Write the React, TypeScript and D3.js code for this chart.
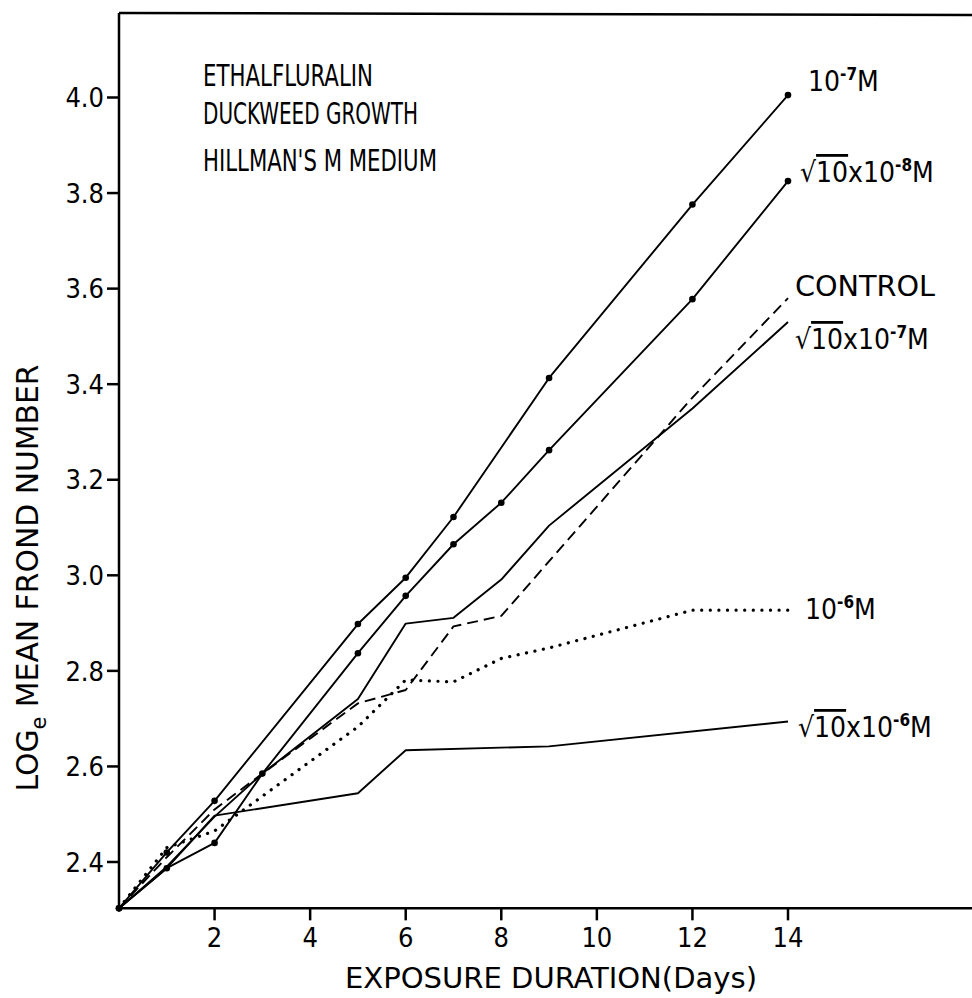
import * as d3 from "d3";

// exposure days and log_e mean frond number
const days10m7 = [0, 1, 2, 5, 6, 7, 9, 12, 14];
const log10m7 = [2.303, 2.42, 2.528, 2.898, 2.995, 3.122, 3.413, 3.776, 4.005];

const daysR10m8 = [0, 1, 2, 3, 5, 6, 7, 8, 9, 12, 14];
const logR10m8 = [2.303, 2.387, 2.44, 2.585, 2.837, 2.957, 3.065, 3.152, 3.262, 3.578, 3.825];

const daysControl = [0, 1, 2, 3, 5, 6, 7, 8, 12, 14];
const logControl = [2.303, 2.41, 2.51, 2.585, 2.732, 2.76, 2.893, 2.915, 3.372, 3.58];

const daysR10m7 = [0, 1, 2, 3, 5, 6, 7, 8, 9, 12, 14];
const logR10m7 = [2.303, 2.39, 2.495, 2.585, 2.741, 2.899, 2.911, 2.991, 3.104, 3.349, 3.53];

const days10m6 = [0, 1, 2, 5, 6, 7, 8, 9, 12, 14];
const log10m6 = [2.303, 2.43, 2.465, 2.683, 2.781, 2.777, 2.826, 2.848, 2.927, 2.927];

const daysR10m6 = [0, 1, 2, 5, 6, 9, 14];
const logR10m6 = [2.303, 2.387, 2.497, 2.544, 2.634, 2.642, 2.694];

const xTicks = [2, 4, 6, 8, 10, 12, 14];
const yTicks = [2.4, 2.6, 2.8, 3.0, 3.2, 3.4, 3.6, 3.8, 4.0];

const W = 972;
const H = 998;
const FONT = "'DejaVu Sans Condensed', 'Liberation Sans Narrow', 'DejaVu Sans', sans-serif";

const x = d3.scaleLinear().domain([0, 14]).range([119, 788]);
const y = d3.scaleLinear().domain([2.4, 4.0]).range([862, 97.5]);

const pairs = (ds: number[], vs: number[]) => ds.map((d, i) => [d, vs[i]] as [number, number]);

const series = [
  { pts: pairs(days10m7, log10m7), style: "solid", dots: true },
  { pts: pairs(daysR10m8, logR10m8), style: "solid", dots: true },
  { pts: pairs(daysControl, logControl), style: "dashed", dots: false },
  { pts: pairs(daysR10m7, logR10m7), style: "solid", dots: false },
  { pts: pairs(days10m6, log10m6), style: "dotted", dots: false },
  { pts: pairs(daysR10m6, logR10m6), style: "solid", dots: false },
];

const line = d3
  .line<[number, number]>()
  .x((d) => x(d[0]))
  .y((d) => y(d[1]));

const Radical = ({ exp }: { exp: string }) => (
  <>
    <tspan>√</tspan>
    <tspan style={{ textDecoration: "overline" }}>10</tspan>
    <tspan>x10</tspan>
    <tspan dy={-11} fontSize={17} fontWeight="bold">{exp}</tspan>
    <tspan dy={11}>M</tspan>
  </>
);

export default function App() {
  const x0 = x(0);
  const yBottom = y(2.303);
  const yTop = 13;
  return (
    <svg
      width={W}
      height={H}
      style={{ position: "absolute", left: 0, top: 0, background: "#fff" }}
      fontFamily={FONT}
    >
      {/* frame */}
      <line x1={x0} y1={yTop} x2={W} y2={yTop + 2} stroke="#000" strokeWidth={2.5} />
      <line x1={x0} y1={yTop} x2={x0} y2={yBottom} stroke="#000" strokeWidth={2.5} />
      <line x1={x0} y1={yBottom} x2={W} y2={yBottom} stroke="#000" strokeWidth={2.5} />

      {xTicks.map((t) => (
        <g key={t}>
          <line x1={x(t)} x2={x(t)} y1={yBottom} y2={yBottom + 12} stroke="#000" strokeWidth={2.5} />
          <text x={x(t)} y={947} textAnchor="middle" fontSize={27}>
            {t}
          </text>
        </g>
      ))}
      {yTicks.map((t) => (
        <g key={t}>
          <line x1={x0 - 12} x2={x0} y1={y(t)} y2={y(t)} stroke="#000" strokeWidth={2.5} />
          <text x={104} y={y(t)} dy="0.36em" textAnchor="end" fontSize={27}>
            {t.toFixed(1)}
          </text>
        </g>
      ))}

      {series.map((s, i) => (
        <g key={i}>
          <path
            d={line(s.pts) || ""}
            fill="none"
            stroke="#000"
            strokeWidth={s.style === "dotted" ? 3.2 : 1.9}
            strokeLinecap={s.style === "dotted" ? "round" : "butt"}
            strokeLinejoin="round"
            strokeDasharray={s.style === "dashed" ? "11 6" : s.style === "dotted" ? "0.1 8.5" : undefined}
          />
          {s.dots &&
            s.pts.map((p, j) => <circle key={j} cx={x(p[0])} cy={y(p[1])} r={3.3} fill="#000" />)}
        </g>
      ))}

      {/* title block */}
      <g fontSize={30}>
        <text x={203} y={86} textLength={170} lengthAdjust="spacingAndGlyphs">ETHALFLURALIN</text>
        <text x={203} y={124} textLength={215} lengthAdjust="spacingAndGlyphs">DUCKWEED GROWTH</text>
        <text x={203} y={171} textLength={234} lengthAdjust="spacingAndGlyphs">HILLMAN'S M MEDIUM</text>
      </g>

      {/* series labels */}
      <g fontSize={28}>
        <text x={808} y={91}>
          10<tspan dy={-11} fontSize={17} fontWeight="bold">-7</tspan>
          <tspan dy={11}>M</tspan>
        </text>
        <text x={800} y={182}>
          <Radical exp="-8" />
        </text>
        <text x={795} y={296} textLength={140} lengthAdjust="spacingAndGlyphs">CONTROL</text>
        <text x={795} y={349}>
          <Radical exp="-7" />
        </text>
        <text x={805} y={619}>
          10<tspan dy={-11} fontSize={17} fontWeight="bold">-6</tspan>
          <tspan dy={11}>M</tspan>
        </text>
        <text x={798} y={737}>
          <Radical exp="-6" />
        </text>
      </g>

      {/* axis titles */}
      <text x={345} y={988} fontSize={28} textLength={412} lengthAdjust="spacingAndGlyphs">
        EXPOSURE DURATION(Days)
      </text>
      <text
        transform="translate(38,578) rotate(-90)"
        textAnchor="middle"
        fontSize={30}
        textLength={427}
        lengthAdjust="spacingAndGlyphs"
      >
        LOG<tspan dy={8} fontSize={21}>e</tspan>
        <tspan dy={-8}> MEAN FROND NUMBER</tspan>
      </text>
    </svg>
  );
}
